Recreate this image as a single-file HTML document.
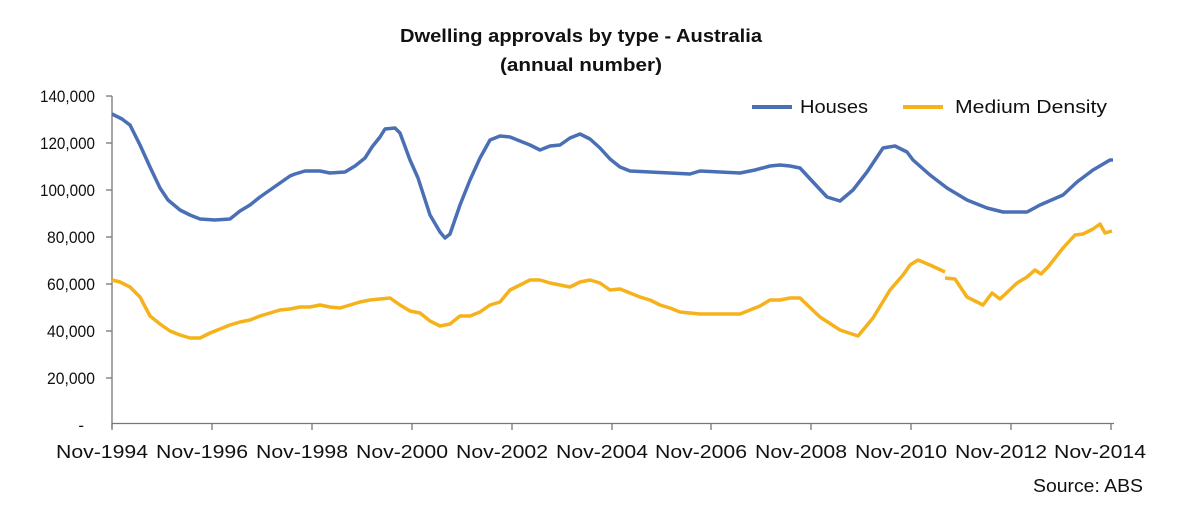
<!DOCTYPE html>
<html><head><meta charset="utf-8"><style>
body{margin:0;background:#fff;}
svg text{font-family:"Liberation Sans",sans-serif;fill:#111;}
</style></head><body>
<svg width="1185" height="521" viewBox="0 0 1185 521" xmlns="http://www.w3.org/2000/svg">
<text x="400" y="42" font-size="18" font-weight="bold" textLength="362" lengthAdjust="spacingAndGlyphs">Dwelling approvals by type - Australia</text>
<text x="500" y="71" font-size="18" font-weight="bold" textLength="162" lengthAdjust="spacingAndGlyphs">(annual number)</text>
<g font-size="17" text-anchor="end">
<text x="95" y="102" textLength="55" lengthAdjust="spacingAndGlyphs">140,000</text>
<text x="95" y="149" textLength="55" lengthAdjust="spacingAndGlyphs">120,000</text>
<text x="95" y="196" textLength="55" lengthAdjust="spacingAndGlyphs">100,000</text>
<text x="95" y="243" textLength="48" lengthAdjust="spacingAndGlyphs">80,000</text>
<text x="95" y="290" textLength="48" lengthAdjust="spacingAndGlyphs">60,000</text>
<text x="95" y="337" textLength="48" lengthAdjust="spacingAndGlyphs">40,000</text>
<text x="95" y="384" textLength="48" lengthAdjust="spacingAndGlyphs">20,000</text>
<text x="84" y="431">-</text>
</g>
<g stroke="#777" stroke-width="1.3" fill="none">
<line x1="112" y1="96" x2="112" y2="428"/>
<line x1="106" y1="96" x2="112" y2="96"/><line x1="106" y1="143" x2="112" y2="143"/><line x1="106" y1="190" x2="112" y2="190"/><line x1="106" y1="237" x2="112" y2="237"/><line x1="106" y1="284" x2="112" y2="284"/><line x1="106" y1="331" x2="112" y2="331"/><line x1="106" y1="378" x2="112" y2="378"/>
<line x1="112" y1="423.5" x2="1114" y2="423.5"/>
<line x1="112" y1="423" x2="112" y2="430"/><line x1="212" y1="423" x2="212" y2="430"/><line x1="312" y1="423" x2="312" y2="430"/><line x1="412" y1="423" x2="412" y2="430"/><line x1="512" y1="423" x2="512" y2="430"/><line x1="612" y1="423" x2="612" y2="430"/><line x1="711" y1="423" x2="711" y2="430"/><line x1="811" y1="423" x2="811" y2="430"/><line x1="911" y1="423" x2="911" y2="430"/><line x1="1011" y1="423" x2="1011" y2="430"/><line x1="1111" y1="423" x2="1111" y2="430"/>
</g>
<g font-size="18" text-anchor="middle">
<text x="102" y="458" textLength="92" lengthAdjust="spacingAndGlyphs">Nov-1994</text><text x="202" y="458" textLength="92" lengthAdjust="spacingAndGlyphs">Nov-1996</text><text x="302" y="458" textLength="92" lengthAdjust="spacingAndGlyphs">Nov-1998</text><text x="402" y="458" textLength="92" lengthAdjust="spacingAndGlyphs">Nov-2000</text><text x="502" y="458" textLength="92" lengthAdjust="spacingAndGlyphs">Nov-2002</text><text x="602" y="458" textLength="92" lengthAdjust="spacingAndGlyphs">Nov-2004</text><text x="701" y="458" textLength="92" lengthAdjust="spacingAndGlyphs">Nov-2006</text><text x="801" y="458" textLength="92" lengthAdjust="spacingAndGlyphs">Nov-2008</text><text x="901" y="458" textLength="92" lengthAdjust="spacingAndGlyphs">Nov-2010</text><text x="1001" y="458" textLength="92" lengthAdjust="spacingAndGlyphs">Nov-2012</text><text x="1100" y="458" textLength="92" lengthAdjust="spacingAndGlyphs">Nov-2014</text>
</g>
<text x="1033" y="492" font-size="18" textLength="110" lengthAdjust="spacingAndGlyphs">Source: ABS</text>
<line x1="752" y1="107" x2="792" y2="107" stroke="#4a6fb5" stroke-width="4"/>
<text x="800" y="113" font-size="18" textLength="68" lengthAdjust="spacingAndGlyphs">Houses</text>
<line x1="903" y1="107" x2="943" y2="107" stroke="#f5b21a" stroke-width="4"/>
<text x="955" y="113" font-size="18" textLength="152" lengthAdjust="spacingAndGlyphs">Medium Density</text>
<polyline fill="none" stroke="#4a6fb5" stroke-width="3.5" stroke-linejoin="round" points="112,114 122,119 130,125 140,145 150,167 160,188 168,200 180,210 190,215 200,219 215,220 230,219 240,211 250,205 260,197 270,190 280,183 290,176 295,174 305,171 320,171 330,173 345,172 355,166 365,158 372,147 380,137 385,129 395,128 400,133 410,160 418,178 430,215 440,232 445,238 450,234 460,205 470,180 480,158 490,140 500,136 510,137 520,141 530,145 540,150 550,146 560,145 570,138 580,134 590,139 600,148 610,159 620,167 630,171 650,172 670,173 690,174 700,171 720,172 740,173 755,170 770,166 780,165 790,166 800,168 813,182 827,197 840,201 853,190 867,172 883,148 895,146 907,152 913,160 930,175 947,188 967,200 987,208 1003,212 1027,212 1040,205 1063,195 1077,182 1093,170 1110,160 1113,160"/>
<polyline fill="none" stroke="#f5b21a" stroke-width="3.5" stroke-linejoin="round" points="112,280 120,282 130,287 140,297 150,316 160,324 170,331 180,335 190,338 200,338 210,333 220,329 230,325 240,322 250,320 260,316 270,313 280,310 290,309 300,307 310,307 320,305 330,307 340,308 350,305 360,302 370,300 380,299 390,298 400,305 410,311 420,313 430,321 440,326 450,324 460,316 470,316 480,312 490,305 500,302 510,290 520,285 530,280 540,280 550,283 560,285 570,287 580,282 590,280 600,283 610,290 620,289 630,293 640,297 650,300 660,305 670,308 680,312 690,313 700,314 720,314 740,314 760,306 770,300 780,300 790,298 800,298 820,317 840,330 858,336 873,318 890,290 903,275 910,265 918,260 930,265 945,272"/>
<polyline fill="none" stroke="#f5b21a" stroke-width="3.5" stroke-linejoin="round" points="945,278 955,279 967,297 983,305 992,293 1000,299 1017,283 1027,277 1035,270 1041,274 1048,267 1063,248 1075,235 1083,234 1093,229 1100,224 1105,233 1112,231"/>
</svg>
</body></html>
